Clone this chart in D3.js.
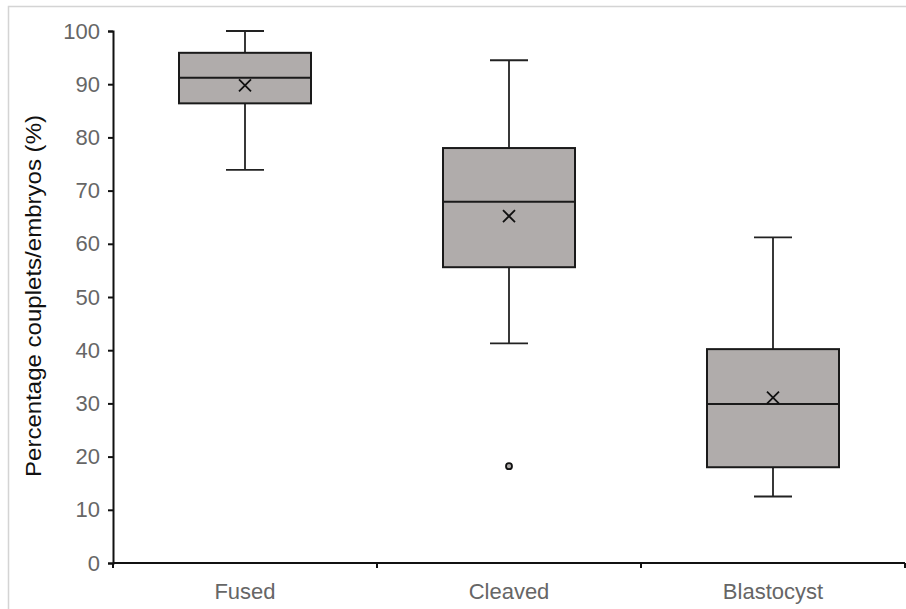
<!DOCTYPE html>
<html>
<head>
<meta charset="utf-8">
<script src="https://cdn.jsdelivr.net/npm/d3@7"></script>
<style>
  body { margin: 0; background: #fff; }
  svg { display: block; font-family: "Liberation Sans", Arial, sans-serif; }
</style>
</head>
<body>
<svg id="canvas"></svg>
<script>
// data
const categories = ['Fused', 'Cleaved', 'Blastocyst'];
const mins    = [73.9, 41.3, 12.5];
const q1s     = [86.4, 55.6, 18.0];
const medians = [91.2, 67.9, 29.9];
const q3s     = [95.9, 78.0, 40.2];
const maxs    = [100, 94.5, 61.2];
const means   = [89.8, 65.2, 31.1];
const outliers = [[], [18.2], []];
const yTicks = [0, 10, 20, 30, 40, 50, 60, 70, 80, 90, 100];

const w = 906, h = 609;
const padL = 113, padR = 905, padT = 31, padB = 563;

const canvas = d3.select('#canvas').attr('width', w).attr('height', h);

// light frame round the chart
canvas.append('rect')
  .attr('x', 8.5).attr('y', 6.5)
  .attr('width', w + 10).attr('height', h + 10)
  .attr('fill', 'none').attr('stroke', '#d4d4d4').attr('stroke-width', 1.5);

const xScale = d3.scaleBand().domain(categories).range([padL, padR]);
const yScale = d3.scaleLinear().domain([0, 100]).range([padB, padT]);

const boxes = categories.map((c, i) => ({
  cat: c, min: mins[i], q1: q1s[i], med: medians[i], q3: q3s[i],
  max: maxs[i], mean: means[i], out: outliers[i]
}));

// y axis
const yAxis = d3.axisLeft(yScale).tickValues(yTicks).tickSize(5).tickPadding(8);
const gy = canvas.append('g').attr('transform', `translate(${padL},0)`).call(yAxis);
gy.select('.domain').attr('stroke', '#111').attr('stroke-width', 2);
gy.selectAll('.tick line').attr('stroke', '#111').attr('stroke-width', 2);
gy.selectAll('.tick text').attr('fill', '#666').attr('font-size', 22)
  .attr('font-family', '"Liberation Sans", Arial, sans-serif');

// x axis: ticks on band edges
const edges = categories.map(c => xScale(c)).concat([padR]);
const xg = canvas.append('g');
xg.append('line').attr('x1', padL).attr('x2', padR)
  .attr('y1', padB).attr('y2', padB)
  .attr('stroke', '#111').attr('stroke-width', 2);
xg.selectAll('line.tk').data(edges).enter().append('line').attr('class', 'tk')
  .attr('x1', d => d).attr('x2', d => d)
  .attr('y1', padB).attr('y2', padB + 5)
  .attr('stroke', '#111').attr('stroke-width', 2);
xg.selectAll('text').data(categories).enter().append('text')
  .attr('x', d => xScale(d) + xScale.bandwidth() / 2)
  .attr('y', 598.5)
  .attr('text-anchor', 'middle')
  .attr('fill', '#666').attr('font-size', 22)
  .text(d => d);

// y title
canvas.append('text')
  .attr('transform', 'translate(41,296) rotate(-90)')
  .attr('text-anchor', 'middle')
  .attr('fill', '#111').attr('font-size', 22)
  .attr('textLength', 362).attr('lengthAdjust', 'spacingAndGlyphs')
  .text('Percentage couplets/embryos (%)');

const boxW = xScale.bandwidth() / 2;
const capW = 38;
const cx = d => xScale(d.cat) + xScale.bandwidth() / 2;
const line = '#222';

const g = canvas.selectAll('g.box').data(boxes).enter().append('g').attr('class', 'box');

// whiskers
g.append('line').attr('x1', cx).attr('x2', cx)
  .attr('y1', d => yScale(d.max)).attr('y2', d => yScale(d.q3))
  .attr('stroke', line).attr('stroke-width', 1.8);
g.append('line').attr('x1', cx).attr('x2', cx)
  .attr('y1', d => yScale(d.q1)).attr('y2', d => yScale(d.min))
  .attr('stroke', line).attr('stroke-width', 1.8);
g.append('line').attr('x1', d => cx(d) - capW / 2).attr('x2', d => cx(d) + capW / 2)
  .attr('y1', d => yScale(d.max)).attr('y2', d => yScale(d.max))
  .attr('stroke', line).attr('stroke-width', 1.8);
g.append('line').attr('x1', d => cx(d) - capW / 2).attr('x2', d => cx(d) + capW / 2)
  .attr('y1', d => yScale(d.min)).attr('y2', d => yScale(d.min))
  .attr('stroke', line).attr('stroke-width', 1.8);

// box
g.append('rect')
  .attr('x', d => cx(d) - boxW / 2)
  .attr('y', d => yScale(d.q3))
  .attr('width', boxW)
  .attr('height', d => yScale(d.q1) - yScale(d.q3))
  .attr('fill', '#b0acab').attr('stroke', '#1a1a1a').attr('stroke-width', 2);

// median
g.append('line').attr('x1', d => cx(d) - boxW / 2).attr('x2', d => cx(d) + boxW / 2)
  .attr('y1', d => yScale(d.med)).attr('y2', d => yScale(d.med))
  .attr('stroke', '#1a1a1a').attr('stroke-width', 2);

// mean marker
const ms = 6;
g.append('path')
  .attr('d', d => {
    const x = cx(d), y = yScale(d.mean);
    return `M${x - ms},${y - ms}L${x + ms},${y + ms}M${x - ms},${y + ms}L${x + ms},${y - ms}`;
  })
  .attr('stroke', '#111').attr('stroke-width', 1.8).attr('fill', 'none');

// outliers
g.each(function (d) {
  d3.select(this).selectAll('circle').data(d.out).enter().append('circle')
    .attr('cx', cx(d)).attr('cy', v => yScale(v)).attr('r', 3)
    .attr('fill', '#b0acab').attr('stroke', '#111').attr('stroke-width', 1.8);
});
</script>
</body>
</html>
